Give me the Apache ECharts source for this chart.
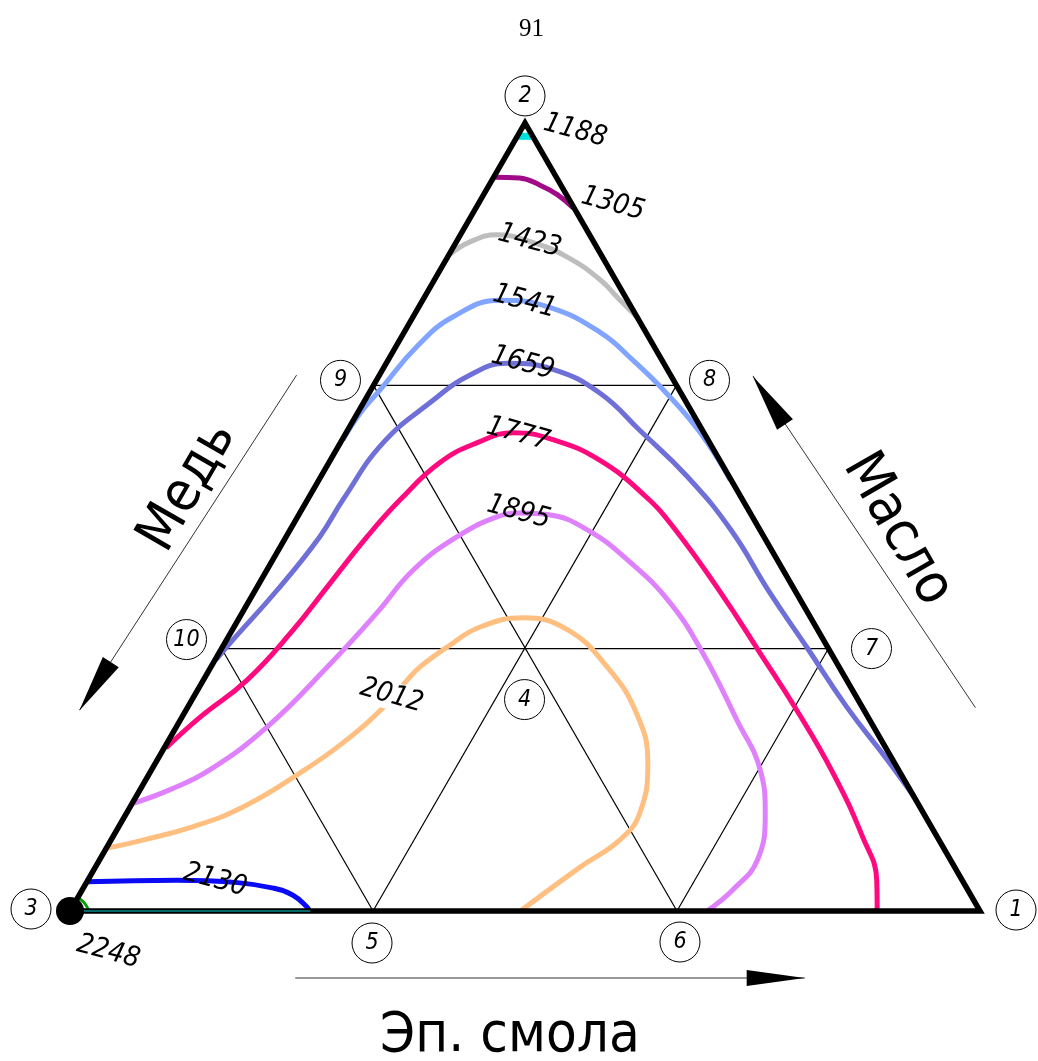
<!DOCTYPE html>
<html lang="ru">
<head>
    <meta charset="UTF-8">
    <title>91</title>
    <style>
        html,
        body {
            margin: 0;
            padding: 0;
            background: #fff;
        }

        #canvas {
            width: 1038px;
            height: 1061px;
        }
    </style>
</head>
<body>
<div id="canvas"></div>
<script src="https://cdn.jsdelivr.net/npm/echarts@6.0.0/dist/echarts.min.js"></script>
<script>
    // every point is [resin %, oil %], copper = 100 - resin - oil
    // vertex 1 = Эп. смола, vertex 2 = Масло, vertex 3 = Медь

    const nodeIds = ['1', '2', '3', '4', '5', '6', '7', '8', '9', '10']
    const nodeAt = [[100, 0], [0, 100], [0, 0], [33.3, 33.3], [33.3, 0],
        [66.7, 0], [66.7, 33.3], [33.3, 66.7], [0, 66.7], [0, 33.3]]
    const gridLinks = [['9', '8'], ['10', '7'], ['9', '6'], ['8', '5'], ['10', '5'], ['7', '6']]

    const axisNames = ['Эп. смола', 'Масло', 'Медь']

    const contourLevels = [1188, 1305, 1423, 1541, 1659, 1777, 1895, 2012, 2130, 2248]

    const line1188 = [[0, 98.3], [1.7, 98.3]]
    const line1305 = [[0.1, 93.1], [2.9, 93.0], [5.6, 92.1], [8.1, 90.9], [10.7, 89.2]]
    const line1423 = [[0, 83.2], [1.5, 84.9], [4.0, 85.8], [8.5, 84.8], [13.1, 83.0],
        [18.2, 80.1], [21.7, 77.5], [24.7, 75.3]]
    const line1541 = [[0.1, 59.8], [0.3, 63.2], [1.0, 66.1], [2.3, 71.6], [4.4, 75.4],
        [8.5, 77.5], [14.4, 76.6], [21.6, 73.4], [26.9, 69.9], [32.7, 65.7], [38.9, 60.7], [45.2, 54.7]]
    const line1659 = [[0.1, 31.9], [0.7, 34.4], [2.4, 40.7], [3.7, 47.5], [3.9, 52.2],
        [4.7, 59.4], [7.5, 64.8], [9.7, 67.8], [13.3, 69.5], [18.8, 68.7], [25.4, 65.7],
        [32.1, 61.0], [40.3, 55.1], [48.4, 48.4], [56.7, 40.4], [64.2, 33.5], [72.4, 25.9],
        [80.2, 19.2], [85.5, 14.5]]
    const line1777 = [[0.2, 20.7], [2.0, 24.6], [4.8, 29.3], [6.7, 35.7], [7.7, 41.1],
        [8.9, 47.5], [10.2, 52.2], [12.2, 56.9], [15.0, 59.4], [18.4, 60.7], [23.2, 59.8],
        [29.6, 57.2], [37.1, 52.5], [42.3, 48.4], [51.3, 40.4], [59.5, 32.7], [67.1, 25.5],
        [75.1, 17.5], [82.4, 9.4], [86.7, 3.9], [88.7, 0]]
    const line1895 = [[0.2, 13.7], [3.3, 15.4], [6.4, 17.9], [10.0, 23.4], [12.8, 31.0],
        [14.8, 37.8], [16.1, 43.3], [18.8, 47.5], [21.9, 50.0], [24.2, 50.5], [27.3, 50.3],
        [32.6, 48.4], [39.5, 44.2], [46.4, 39.1], [53.2, 32.7], [61.2, 24.2], [66.9, 17.9],
        [70.2, 12.4], [72.3, 6.5], [71.5, 2.7], [70.0, 0]]
    const line2012 = [[0.1, 8.0], [3.5, 9.0], [8.2, 10.7], [12.4, 13.2], [16.5, 17.5],
        [19.3, 21.3], [21.5, 25.8], [22.4, 29.3], [23.0, 31.0], [24.7, 33.5], [27.0, 36.0],
        [31.2, 37.2], [36.8, 35.7], [43.5, 31.0], [49.7, 25.1], [54.1, 18.8], [56.4, 12.4],
        [55.9, 9.0], [53.3, 5.6], [49.5, 0]]
    const line2130 = [[0, 3.7], [9.8, 3.9], [16.6, 3.6], [20.9, 2.9], [23.5, 2.0], [25.8, 0.5], [26.3, 0]]
    const line2248 = [[1.5, 0], [26.4, 0]]
    const line2248corner = [[0.2, 1.6], [1.1, 1.0], [1.9, 0.2]]

    // where each level number is written
    const levelLabelAt = [[6.0, 99.0], [14.8, 89.7], [8.0, 85.0], [11.3, 77.3], [15.0, 69.5],
        [19.0, 60.5], [24.0, 50.6], [21.7, 27.3], [14.0, 3.9], [6.8, -5.2]]

    // ---- layout / style ----
    const PX = 910
    const S = Math.sqrt(3) / 2
    const FONT = "'DejaVu Sans Condensed', 'DejaVu Sans', sans-serif"

    function xy(p) {
        return [p[0] / 100 + p[1] / 200, p[1] / 100 * S]
    }

    function shift(pt, d) {
        return [pt[0] + d[0] / PX, pt[1] - d[1] / PX]
    }

    function node(id) {
        return nodeAt[nodeIds.indexOf(id)]
    }

    const levelColors = {
        1188: '#00e0e0', 1305: '#a00a88', 1423: '#bdbdbd', 1541: '#80a4ff', 1659: '#6f6fd8',
        1777: '#ff0a7e', 1895: '#df80fc', 2012: '#ffbf80', 2130: '#0a0af5', 2248: '#008b8b'
    }
    const levelLines = {
        1188: line1188, 1305: line1305, 1423: line1423, 1541: line1541, 1659: line1659,
        1777: line1777, 1895: line1895, 2012: line2012, 2130: line2130, 2248: line2248
    }
    const nodeCircleOffset = [[36, -1], [0, -27], [-39, -2], [0, 51], [-1, 32],
        [3, 31], [43, 0], [33, -5], [-33, -5], [-35, -9]]

    const series = []

    // thin grid inside the triangle
    gridLinks.forEach(([a, b]) => {
        series.push({
            type: 'line', z: 2, silent: true, symbol: 'none',
            data: [xy(node(a)), xy(node(b))],
            lineStyle: {color: '#000', width: 1.2}
        })
    })

    // contour lines
    contourLevels.forEach(lv => {
        series.push({
            type: 'line', z: lv === 2248 ? 5 : 3, silent: true, symbol: 'none', smooth: 0.45,
            data: levelLines[lv].map(xy),
            lineStyle: {color: levelColors[lv], width: lv === 2248 ? 1.5 : (lv === 1188 ? 7 : 5)}
        })
    })
    series.push({
        type: 'line', z: 3, silent: true, symbol: 'none', smooth: 0.4,
        data: line2248corner.map(xy),
        lineStyle: {color: '#00a000', width: 3}
    })

    // triangle outline
    series.push({
        type: 'line', z: 4, silent: true, symbol: 'none',
        data: [node('3'), node('1'), node('2'), node('3'), node('1')].map(xy),
        lineStyle: {color: '#000', width: 5.5, join: 'miter', cap: 'butt'}
    })

    // direction arrows next to the sides
    const arrowShafts = [
        [[-9.1, 68.0], [-11.7, 25.5]],
        [[86.6, 25.8], [41.1, 67.9]],
        [[29.0, -8.5], [85.0, -8.5]]
    ]
    arrowShafts.forEach(s => {
        series.push({
            type: 'line', z: 2, silent: true, symbol: 'none',
            data: s.map(xy),
            lineStyle: {color: '#333', width: 1}
        })
    })
    series.push({
        type: 'scatter', z: 6, silent: true, symbol: 'triangle',
        itemStyle: {color: '#000', opacity: 1},
        data: [
            {value: xy([-11.5, 28.5]), symbolSize: [19, 58], symbolRotate: 147},
            {value: xy([44.4, 64.8]), symbolSize: [19, 58], symbolRotate: 33.8},
            {value: xy([81.8, -8.5]), symbolSize: [16, 58], symbolRotate: -90}
        ]
    })

    // vertex 3 dot
    series.push({
        type: 'scatter', z: 7, silent: true, symbol: 'circle', symbolSize: 28,
        itemStyle: {color: '#000', opacity: 1},
        data: [xy(node('3'))]
    })

    // numbered circles
    series.push({
        type: 'scatter', z: 7, silent: true, symbol: 'circle', symbolSize: 40,
        itemStyle: {color: 'rgba(255,255,255,0)', borderColor: '#000', borderWidth: 1, opacity: 1},
        label: {
            show: true, position: 'inside', color: '#000', fontSize: 23,
            fontStyle: 'italic', fontFamily: FONT, formatter: p => p.name
        },
        data: nodeIds.map((id, i) => ({name: id, value: shift(xy(nodeAt[i]), nodeCircleOffset[i])}))
    })

    // level numbers
    series.push({
        type: 'scatter', z: 8, silent: true, symbol: 'circle', symbolSize: 1,
        itemStyle: {color: 'rgba(0,0,0,0)', opacity: 1},
        label: {
            show: true, position: 'inside', color: '#000', fontSize: 28,
            fontStyle: 'italic', fontFamily: FONT, formatter: p => p.name
        },
        data: contourLevels.map((lv, i) => ({
            name: String(lv),
            value: xy(levelLabelAt[i]),
            label: lv === 2012
                ? {rotate: -16, backgroundColor: '#fff', padding: [0, 2]}
                : {rotate: -15}
        }))
    })

    // component names
    series.push({
        type: 'scatter', z: 8, silent: true, symbol: 'circle', symbolSize: 1,
        itemStyle: {color: 'rgba(0,0,0,0)', opacity: 1},
        label: {
            show: true, position: 'inside', color: '#000', fontSize: 56,
            fontFamily: FONT, formatter: p => p.name
        },
        data: [
            {name: axisNames[0], value: xy([56.3, -15.9]), label: {rotate: 0}},
            {name: axisNames[1], value: xy([66.7, 48.4]), label: {rotate: -60}},
            {name: axisNames[2], value: xy([-13.9, 53.8]), label: {rotate: 60}}
        ]
    })

    const chart = echarts.init(document.getElementById('canvas'))
    chart.setOption({
        animation: false,
        backgroundColor: '#fff',
        title: {
            text: '91',
            left: 514,
            top: 12,
            textStyle: {fontFamily: "'Liberation Serif', serif", fontSize: 25, fontWeight: 'normal', color: '#000'}
        },
        grid: {left: 0, right: 0, top: 0, bottom: 0, containLabel: false},
        xAxis: {type: 'value', min: -70 / PX, max: 968 / PX, show: false},
        yAxis: {type: 'value', min: -150 / PX, max: 911 / PX, show: false},
        series
    })
</script>
</body>
</html>
